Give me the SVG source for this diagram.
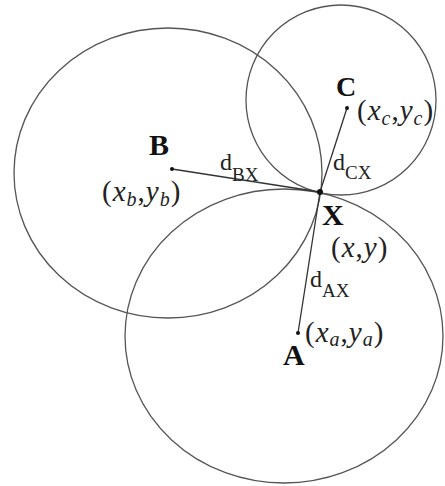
<svg xmlns="http://www.w3.org/2000/svg" width="445" height="486" viewBox="0 0 445 486">
<style>
.circ{fill:none;stroke:#555;stroke-width:1.3}
.ln{stroke:#333;stroke-width:1.3}
.pt{fill:#111}
.lbl{font-family:"Liberation Serif","Times New Roman",serif;font-weight:bold;fill:#111}
.co{font-family:"Liberation Serif","Times New Roman",serif;font-size:29px;fill:#222;letter-spacing:1px}
.it{font-style:italic}
.sb{font-size:20px;font-style:italic}
.d{font-family:"Liberation Serif","Times New Roman",serif;font-size:24px;fill:#222}
.ds{font-size:19px}
</style>
<rect width="445" height="486" fill="#fff"/>
<g id="circles">
<ellipse id="circleB" class="circ" cx="168" cy="173" rx="154" ry="145"/>
<ellipse id="circleC" class="circ" cx="341" cy="100" rx="95" ry="95"/>
<ellipse id="circleA" class="circ" cx="284" cy="336" rx="159" ry="147"/>
</g>
<g id="connectors">
<line class="ln" x1="172" y1="169" x2="320" y2="192"/>
<line class="ln" x1="347" y1="108" x2="320" y2="192"/>
<line class="ln" x1="298" y1="333" x2="320" y2="192"/>
</g>
<g id="nodeB">
<circle class="pt" cx="172" cy="169" r="2"/>
<text class="lbl" x="149" y="155" font-size="30">B</text>
<text class="co" x="102" y="201">(<tspan class="it">x</tspan><tspan class="sb" dy="5">b</tspan><tspan dy="-5">,</tspan><tspan class="it">y</tspan><tspan class="sb" dy="5">b</tspan><tspan dy="-5">)</tspan></text>
</g>
<g id="nodeC">
<circle class="pt" cx="347" cy="108" r="2"/>
<text class="lbl" x="336" y="96" font-size="28">C</text>
<text class="co" x="357" y="120">(<tspan class="it">x</tspan><tspan class="sb" dy="5">c</tspan><tspan dy="-5">,</tspan><tspan class="it">y</tspan><tspan class="sb" dy="5">c</tspan><tspan dy="-5">)</tspan></text>
</g>
<g id="nodeX">
<circle class="pt" cx="320" cy="192" r="3"/>
<text class="lbl" x="322" y="225" font-size="30">X</text>
<text class="co" x="331" y="257">(<tspan class="it">x</tspan>,<tspan class="it">y</tspan>)</text>
</g>
<g id="nodeA">
<circle class="pt" cx="298" cy="333" r="2"/>
<text class="lbl" x="283" y="365" font-size="30">A</text>
<text class="co" x="305" y="342">(<tspan class="it">x</tspan><tspan class="sb" dy="4">a</tspan><tspan dy="-4">,</tspan><tspan class="it">y</tspan><tspan class="sb" dy="4">a</tspan><tspan dy="-4">)</tspan></text>
</g>
<g id="labels">
<text class="d" x="220" y="170">d<tspan class="ds" dy="11">BX</tspan></text>
<text class="d" x="333" y="170">d<tspan class="ds" dy="9">CX</tspan></text>
<text class="d" x="310" y="287">d<tspan class="ds" dy="10">AX</tspan></text>
</g>
</svg>
